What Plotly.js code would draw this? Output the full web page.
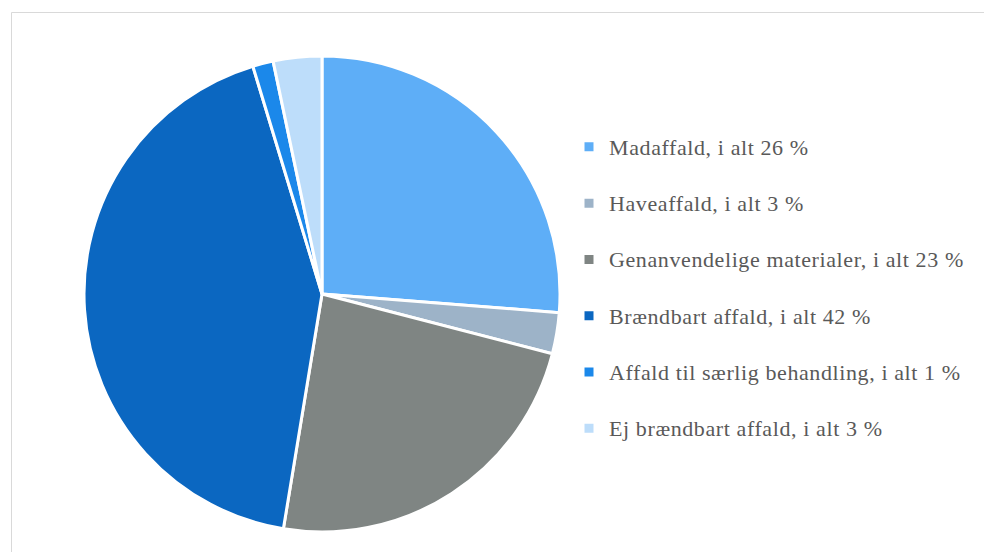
<!DOCTYPE html>
<html>
<head>
<meta charset="utf-8">
<script src="https://cdn.plot.ly/plotly-3.0.1.min.js"></script>
<style>
.legendtext, .legendtext tspan { font-family: "Liberation Serif", "Times New Roman", serif !important; }
</style>
</head>
<body style="margin:0;background:#fff">
<div id="chart"></div>
<script>
// Data
const categories = [
  "Madaffald, i alt 26 %",
  "Haveaffald, i alt 3 %",
  "Genanvendelige materialer, i alt 23 %",
  "Brændbart affald, i alt 42 %",
  "Affald til særlig behandling, i alt 1 %",
  "Ej brændbart affald, i alt 3 %"
];
const shares = [26.3, 2.8, 23.6, 42.8, 1.4, 3.3];
const sliceColors = ["#5EAEF7", "#9DB3C8", "#7F8583", "#0B67C1", "#1B88EA", "#BDDDFA"];

const W = 984, H = 552;
const cx = 322, cy = 294, r = 238;

const trace = {
  type: "pie",
  labels: categories.map(c => '<span style="font-size:22px;letter-spacing:0.6px">' + c + '</span><br>\u00a0'),
  values: shares,
  sort: false,
  direction: "clockwise",
  textinfo: "none",
  marker: { colors: sliceColors, line: { color: "#ffffff", width: 3 } },
  domain: {
    x: [(cx - r) / W, (cx + r) / W],
    y: [1 - (cy + r) / H, 1 - (cy - r) / H]
  }
};

const layout = {
  width: W,
  height: H,
  margin: { l: 0, r: 0, t: 0, b: 0, pad: 0 },
  font: { family: "Liberation Serif" },
  legend: {
    x: 569 / W,
    xanchor: "left",
    y: 1 - 127 / H,
    yanchor: "top",
    valign: "top",
    font: { family: "Liberation Serif", size: 20.5, color: "#595959" }
  },
  shapes: [{
    type: "rect",
    xref: "paper", yref: "paper",
    x0: 11.5 / W, x1: 1.05,
    y0: -0.05, y1: 1 - 12.5 / H,
    line: { color: "#d9d9d9", width: 1 },
    fillcolor: "rgba(0,0,0,0)",
    layer: "below"
  }]
};

Plotly.newPlot("chart", [trace], layout, { displayModeBar: false });
</script>
</body>
</html>
